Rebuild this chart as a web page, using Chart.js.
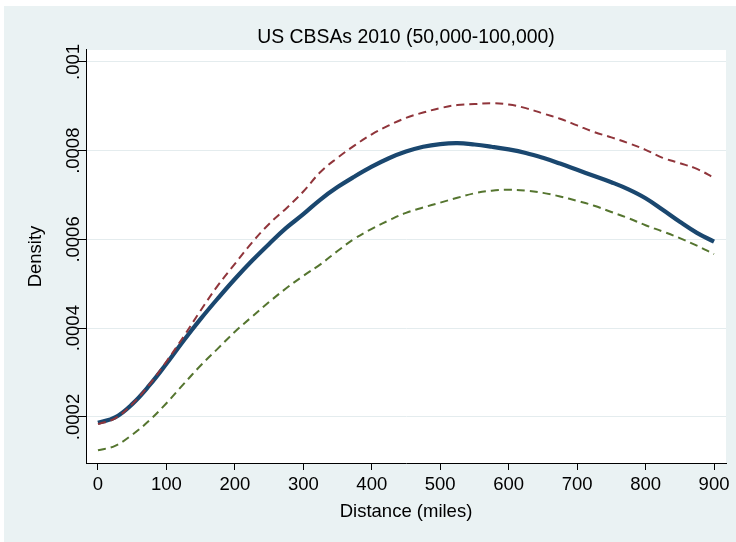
<!DOCTYPE html>
<html>
<head>
<meta charset="utf-8">
<title>US CBSAs 2010 (50,000-100,000)</title>
<script src="https://cdn.jsdelivr.net/npm/chart.js@4/dist/chart.umd.min.js"></script>
<style>
  html, body { margin: 0; padding: 0; background: #fff; }
  #wrap { width: 736px; height: 542px; }
</style>
</head>
<body>
<div id="wrap"><canvas id="chart" width="736" height="542"></canvas></div>
<script>
// distance in miles, sampled every 25
const distance = [0, 25, 50, 75, 100, 125, 150, 175, 200, 225, 250, 275, 300, 325, 350, 375, 400, 425, 450,
  475, 500, 525, 550, 575, 600, 625, 650, 675, 700, 725, 750, 775, 800, 825, 850, 875, 900];

// kernel density estimate (solid navy)
const density = [0.000187, 0.000199, 0.000229, 0.000271, 0.000320, 0.000372, 0.000421, 0.000467, 0.000511,
  0.000552, 0.000590, 0.000626, 0.000657, 0.000690, 0.000718, 0.000742, 0.000764, 0.000783, 0.000798,
  0.000809, 0.000815, 0.000817, 0.000814, 0.000809, 0.000803, 0.000795, 0.000784, 0.000771, 0.000757,
  0.000743, 0.000729, 0.000713, 0.000693, 0.000667, 0.000640, 0.000615, 0.000595];

// upper band (dashed maroon)
const upper = [0.000184, 0.000197, 0.000229, 0.000273, 0.000325, 0.000381, 0.000440, 0.000496, 0.000545,
  0.000593, 0.000635, 0.000670, 0.000708, 0.000752, 0.000784, 0.000812, 0.000837, 0.000857, 0.000874,
  0.000886, 0.000896, 0.000903, 0.000905, 0.000907, 0.000904, 0.000896, 0.000884, 0.000872, 0.000857,
  0.000842, 0.000830, 0.000817, 0.000802, 0.000784, 0.000772, 0.000759, 0.000739];

// lower band (dashed green)
const lower = [0.000125, 0.000135, 0.000160, 0.000192, 0.000231, 0.000274, 0.000316, 0.000354, 0.000392,
  0.000426, 0.000459, 0.000490, 0.000518, 0.000544, 0.000574, 0.000602, 0.000624, 0.000643, 0.000660,
  0.000672, 0.000683, 0.000694, 0.000704, 0.000710, 0.000712, 0.000710, 0.000705, 0.000697, 0.000687,
  0.000676, 0.000662, 0.000648, 0.000632, 0.000618, 0.000603, 0.000586, 0.000567];

const xTicks = [0, 100, 200, 300, 400, 500, 600, 700, 800, 900];
const yTicks = [0.0002, 0.0004, 0.0006, 0.0008, 0.001];
const yTickLabels = ['.0002', '.0004', '.0006', '.0008', '.001'];

const FONT = 'Liberation Sans, Arial, Helvetica, sans-serif';
const BG = '#EAF2F3';

function pts(ys){ return distance.map((d,i)=>({ x:d, y:ys[i] })); }

// stata-ish backdrop: outer light bluish gray, white plot region
const backdrop = {
  id: 'backdrop',
  beforeDraw(chart){
    const { ctx, chartArea:a } = chart;
    ctx.save();
    ctx.fillStyle = '#fff';
    ctx.fillRect(0, 0, chart.width, chart.height);
    ctx.fillStyle = BG;
    ctx.fillRect(4, 6, chart.width - 4, chart.height - 6);
    ctx.fillStyle = '#fff';
    ctx.fillRect(a.left, a.top, a.right - a.left, a.bottom - a.top);
    ctx.restore();
  }
};

new Chart(document.getElementById('chart'), {
  type: 'line',
  data: {
    datasets: [
      { label:'upper', data:pts(upper), borderColor:'#90353B', borderWidth:2, borderDash:[8,5], order:0 },
      { label:'density', data:pts(density), borderColor:'#1A476F', borderWidth:4.2, order:1 },
      { label:'lower', data:pts(lower), borderColor:'#55752F', borderWidth:2, borderDash:[8,5], order:2 }
    ]
  },
  options: {
    responsive: false,
    animation: false,
    devicePixelRatio: 1,
    layout: { padding: { left:0, right:10, top:0, bottom:0 } },
    elements: { point: { radius:0 }, line: { tension:0.4, fill:false, borderCapStyle:'butt' } },
    plugins: {
      legend: { display:false },
      tooltip: { enabled:false },
      title: {
        display: true,
        text: 'US CBSAs 2010 (50,000-100,000)',
        color: '#000',
        fullSize: false,
        font: { family:FONT, size:19.4, weight:'normal' },
        padding: { top:25.9, bottom:0.8 }
      }
    },
    scales: {
      x: {
        type: 'linear',
        min: -17.5,
        max: 917.5,
        afterBuildTicks: s => { s.ticks = xTicks.map(v=>({ value:v })); },
        afterFit: s => { s.height = 79; s.paddingLeft = 0; s.paddingRight = 0; },
        grid: { drawOnChartArea:false, tickLength:7, tickColor:'#000', lineWidth:1 },
        border: { color:'#000', width:1 },
        ticks: { color:'#000', maxRotation:0, autoSkip:false, padding:3.4, font:{ family:FONT, size:18.5 } },
        title: { display:true, text:'Distance (miles)', color:'#000', font:{ family:FONT, size:18.5 }, padding:{ top:0, bottom:19 } }
      },
      y: {
        type: 'linear',
        min: 0.0000963,
        max: 0.001027,
        afterBuildTicks: s => { s.ticks = yTicks.map(v=>({ value:v })); },
        afterFit: s => { s.width = 86; s.paddingTop = 0; s.paddingBottom = 0; },
        grid: { color:'#E4ECEE', lineWidth:1, tickLength:8, tickColor:'#000' },
        border: { color:'#000', width:1 },
        ticks: {
          color:'#000', autoSkip:false, minRotation:90, maxRotation:90, crossAlign:'center', padding:-18.6,
          font:{ family:FONT, size:18.5 },
          callback: (v, i) => yTickLabels[i]
        },
        title: { display:true, text:'Density', color:'#000', font:{ family:FONT, size:18.5 }, padding:{ top:24.7, bottom:0 } }
      }
    }
  },
  plugins: [backdrop]
});
</script>
</body>
</html>
